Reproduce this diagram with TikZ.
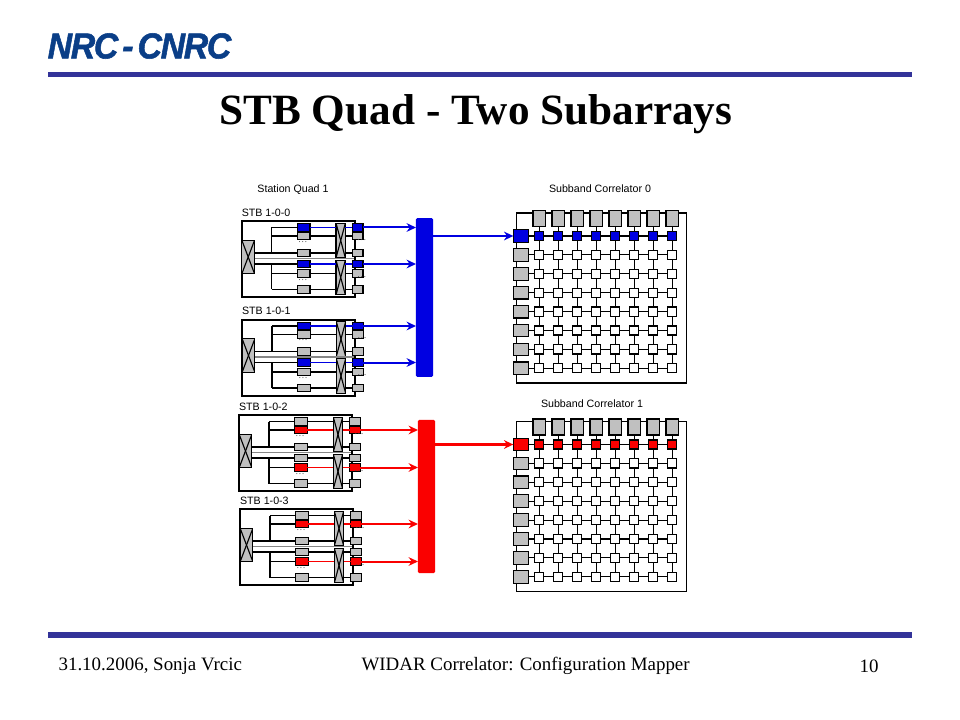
\documentclass[tikz,border=0pt]{standalone}
\usepackage{fontspec}
\setmainfont{Liberation Serif}
\newfontfamily\labelfont{Liberation Sans}
\newfontfamily\logofont[FakeBold=1.5, LetterSpace=-4, WordSpace=0.5]{Liberation Sans}
\usetikzlibrary{arrows.meta, calc, positioning}
\definecolor{rulecol}{RGB}{51,51,153}
\definecolor{logocol}{RGB}{10,62,135}
\definecolor{boxgray}{RGB}{192,192,192}
\definecolor{stbblue}{RGB}{0,0,225}
\definecolor{stbred}{RGB}{250,0,0}
\tikzset{
    smallbox/.style={draw, inner sep=0pt, outer sep=0pt, minimum width=9.5pt, minimum height=5.4pt},
    crossbox/.style={draw, fill=boxgray, inner sep=0pt, outer sep=0pt, path picture={
        \draw (path picture bounding box.north west) -- (path picture bounding box.south east);
        \draw (path picture bounding box.north east) -- (path picture bounding box.south west);}},
    cellbox/.style={draw, inner sep=0pt, outer sep=0pt, minimum size=6.8pt},
    portbox/.style={draw, fill=boxgray, inner sep=0pt, outer sep=0pt, minimum width=11.5pt, minimum height=9.5pt},
    diagramlabel/.style={font=\labelfont\fontsize{8pt}{9pt}\selectfont, inner sep=0pt},
    footerlabel/.style={font=\fontsize{14.2pt}{16pt}\selectfont, inner sep=0pt},
    dotlabel/.style={font=\scriptsize, text=black!70, inner sep=0pt},
    busbar/.style={inner sep=0pt, outer sep=0pt, minimum width=12.8pt, rounded corners=1pt},
    busarrow/.style={-{Stealth[length=7pt,width=6.5pt]}, line width=1.5pt},
}
\begin{document}
\begin{tikzpicture}[x=0.75pt, y=-0.75pt, line width=0.85pt]
    \useasboundingbox (0,0) rectangle (960,720);

    % Header and footer
    \node[font=\logofont\bfseries\itshape\fontsize{27pt}{29pt}\selectfont, text=logocol, inner sep=0pt, xscale=0.94] (logo) at (139.5,46) {NRC - CNRC};
    \node[fill=rulecol, inner sep=0pt, minimum width=648pt, minimum height=4pt] (toprule) at (480,74.5) {};
    \node[font=\bfseries\fontsize{32.4pt}{35pt}\selectfont, inner sep=0pt] (title) at (476,114) {STB Quad - Two Subarrays};
    \node[fill=rulecol, inner sep=0pt, minimum width=648pt, minimum height=4pt] (botrule) at (480,635) {};
    \node[footerlabel, anchor=west] (footdate) at (58,666) {31.10.2006, Sonja Vrcic};
    \node[footerlabel, anchor=west] (foottitle) at (361,666) {WIDAR Correlator: Configuration Mapper};
    \node[footerlabel, anchor=west] (footpage) at (859,666) {10};

    % Labels
    \node[diagramlabel] (quadlabel) at (293,190) {Station Quad 1};
    \node[diagramlabel] (corr0label) at (600,189) {Subband Correlator 0};
    \node[diagramlabel] (corr1label) at (592,404) {Subband Correlator 1};

    % Buses
    \node[busbar, fill=stbblue, minimum height=119pt] (busblue) at (424.5,297.5) {};
    \node[busbar, fill=stbred, minimum height=115pt] (busred) at (426.5,496.5) {};

    % STB modules
    \foreach \m/\fx/\fy/\colr/\hl/\bus in {0/241.7/221/stbblue/1/busblue, 1/242/319.5/stbblue/1/busblue, 2/239/415/stbred/2/busred, 3/240/509/stbred/2/busred}{
        \pgfmathtruncatemacro\hlb{\hl+3}
        \node[draw, line width=1.5pt, inner sep=0pt, outer sep=0pt, minimum width=84.75pt, minimum height=57pt, anchor=north west] (m\m) at (\fx,\fy) {};
        \node[diagramlabel, anchor=south west] (m\m-label) at ({\fx-0.5},{\fy-4}) {STB 1-0-\m};
        \node[crossbox, minimum width=9.5pt, minimum height=25pt] (m\m-big) at ({\fx+6.5},{\fy+36}) {};
        \node[crossbox, minimum width=7pt, minimum height=26pt] (m\m-xa) at ({\fx+99},{\fy+19.5}) {};
        \node[crossbox, minimum width=7pt, minimum height=26pt] (m\m-xb) at ({\fx+99},{\fy+56.5}) {};
        \coordinate (m\m-g0) at ({\fx+112},{\fy+37.5});
        \foreach \k/\ry in {1/6.5, 2/15, 3/32, 4/43, 5/52.5, 6/68.5}{
            \def\boxfill{boxgray}\def\wirecol{black}
            \ifnum\k=\hl \def\boxfill{\colr}\def\wirecol{\colr}\fi
            \ifnum\k=\hlb \def\boxfill{\colr}\def\wirecol{\colr}\fi
            \ifnum\k<4 \def\xbar{xa}\else\def\xbar{xb}\fi
            \coordinate (m\m-j\k) at ({\fx+30},{\fy+\ry});
            \node[smallbox, fill=\boxfill] (m\m-b\k) at ({\fx+62},{\fy+\ry}) {};
            \node[smallbox, minimum width=8pt, fill=\boxfill] (m\m-o\k) at ({\fx+116},{\fy+\ry}) {};
            \draw (m\m-j\k) -- (m\m-b\k);
            \draw[color=\wirecol] (m\m-b\k) -- (m\m-b\k -| m\m-\xbar.west);
            \draw[color=\wirecol] (m\m-o\k -| m\m-\xbar.east) -- (m\m-o\k);
        }
        \draw (m\m-j1) -- (m\m-j3);
        \draw (m\m-j4) -- (m\m-j6);
        \draw (m\m-big.east |- m\m-j3) -- (m\m-j3);
        \draw (m\m-big.east |- m\m-j4) -- (m\m-j4);
        \draw[boxgray!70!black] (m\m-big.east |- m\m-g0) -- (m\m-g0);
        \draw[busarrow, \colr] (m\m-o\hl) -- (\bus.west |- m\m-o\hl);
        \draw[busarrow, \colr] (m\m-o\hlb) -- (\bus.west |- m\m-o\hlb);
        \node[dotlabel] (m\m-d1) at ({\fx+61},{\fy+21}) {\dots};
        \node[dotlabel] (m\m-d2) at ({\fx+61},{\fy+59}) {\dots};
        \node[dotlabel] (m\m-d3) at ({\fx+120},{\fy+19}) {\dots};
        \node[dotlabel] (m\m-d4) at ({\fx+120},{\fy+56}) {\dots};
    }

    % Subband correlators
    \foreach \n/\fy/\colr/\bus in {0/213/stbblue/busblue, 1/421.5/stbred/busred}{
        \node[draw, inner sep=0pt, outer sep=0pt, minimum width=127.5pt, minimum height=127.5pt, anchor=north west] (c\n) at (516.7,\fy) {};
        \foreach \cc in {1,...,8}{
            \node[portbox, minimum width=9.5pt, minimum height=12pt] (c\n-t\cc) at ({539.3+(\cc-1)*19},{\fy+5.5}) {};
        }
        \foreach \rr in {1,...,8}{
            \def\cellfill{white}\def\portfill{boxgray}
            \ifnum\rr=1 \def\cellfill{\colr}\def\portfill{\colr}\fi
            \node[portbox, fill=\portfill] (c\n-l\rr) at (521,{\fy+23+(\rr-1)*18.9}) {};
            \foreach \cc in {1,...,8}{
                \node[cellbox, fill=\cellfill] (c\n-x\rr-\cc) at ({539.3+(\cc-1)*19},{\fy+23+(\rr-1)*18.9}) {};
            }
        }
        \foreach \cc in {1,...,8}{
            \draw (c\n-t\cc) -- (c\n-x1-\cc);
            \foreach \rr [count=\rs from 2] in {1,...,7}{
                \draw (c\n-x\rr-\cc) -- (c\n-x\rs-\cc);
            }
        }
        \foreach \rr in {1,...,8}{
            \draw (c\n-l\rr) -- (c\n-x\rr-1);
            \foreach \cc [count=\cs from 2] in {1,...,7}{
                \draw (c\n-x\rr-\cc) -- (c\n-x\rr-\cs);
            }
        }
        \draw[busarrow, line width=1.6pt, \colr] (\bus.east |- c\n-l1) -- (c\n-l1);
    }
\end{tikzpicture}
\end{document}
